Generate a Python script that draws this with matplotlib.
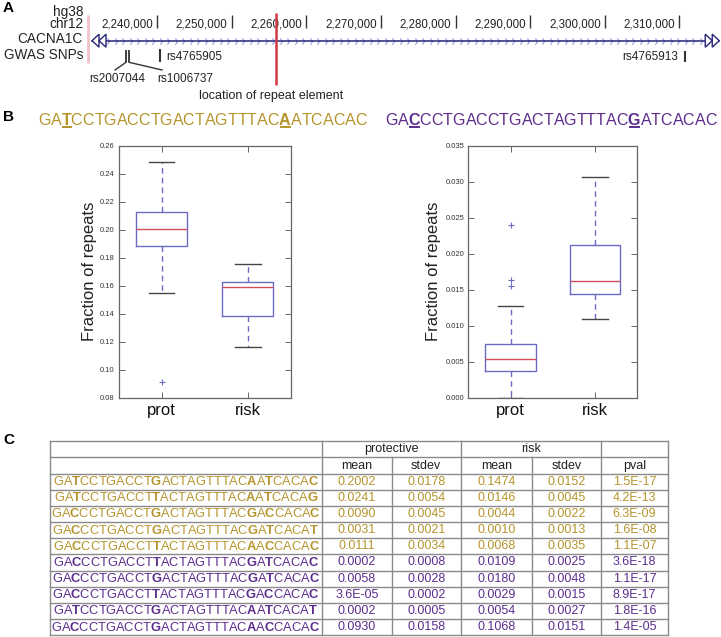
import matplotlib
matplotlib.use('Agg')
import matplotlib.pyplot as plt
import numpy as np
from matplotlib.path import Path
from matplotlib.patches import Polygon

plt.rcParams['font.family'] = ['Liberation Sans', 'DejaVu Sans']
plt.rcParams['mathtext.fontset'] = 'custom'
plt.rcParams['mathtext.rm'] = 'Liberation Sans'
plt.rcParams['mathtext.it'] = 'Liberation Sans:italic'
plt.rcParams['mathtext.bf'] = 'Liberation Sans:bold'
plt.rcParams['mathtext.sf'] = 'Liberation Sans'

# ---------------- data ----------------
# Panel A
track_labels = ['hg38', 'chr12', 'CACNA1C', 'GWAS SNPs']
coord_ticks = [2240000, 2250000, 2260000, 2270000, 2280000, 2290000, 2300000, 2310000]
coord_labels = ['2,240,000', '2,250,000', '2,260,000', '2,270,000',
                '2,280,000', '2,290,000', '2,300,000', '2,310,000']
gene_start = 2231290
gene_end = 2315330
repeat_pos = 2255940
snp_names = ['rs2007044', 'rs1006737', 'rs4765905', 'rs4765913']
snp_pos = [2235850, 2236250, 2240400, 2310740]

# Panel B
seq_protective = 'GATCCTGACCTGACTAGTTTACAATCACAC'
seq_risk = 'GACCCTGACCTGACTAGTTTACGATCACAC'
snp_sites = [2, 22]
groups = ['prot', 'risk']
pval_text = r'p < 10$^{-16}$'

left_whislo = [0.1548, 0.1161]
left_q1 = [0.1883, 0.1385]
left_med = [0.2007, 0.1590]
left_q3 = [0.2124, 0.1629]
left_whishi = [0.2486, 0.1752]
left_fliers = [[0.091], []]

right_whislo = [0.0, 0.0109]
right_q1 = [0.0037, 0.0144]
right_med = [0.0054, 0.0162]
right_q3 = [0.0075, 0.02125]
right_whishi = [0.0127, 0.0306]
right_fliers = [[0.0240, 0.0163, 0.0155], []]

# Panel C
table_seqs = ['GATCCTGACCTGACTAGTTTACAATCACAC',
              'GATCCTGACCTTACTAGTTTACAATCACAG',
              'GACCCTGACCTGACTAGTTTACGACCACAC',
              'GACCCTGACCTGACTAGTTTACGATCACAT',
              'GACCCTGACCTTACTAGTTTACAACCACAC',
              'GACCCTGACCTTACTAGTTTACGATCACAC',
              'GACCCTGACCTGACTAGTTTACGATCACAC',
              'GACCCTGACCTTACTAGTTTACGACCACAC',
              'GATCCTGACCTGACTAGTTTACAATCACAT',
              'GACCCTGACCTGACTAGTTTACAACCACAC']
table_sites = [2, 11, 22, 24, 29]
row_class = ['protective'] * 5 + ['risk'] * 5
prot_mean = ['0.2002', '0.0241', '0.0090', '0.0031', '0.0111',
             '0.0002', '0.0058', '3.6E-05', '0.0002', '0.0930']
prot_sd = ['0.0178', '0.0054', '0.0045', '0.0021', '0.0034',
           '0.0008', '0.0028', '0.0002', '0.0005', '0.0158']
risk_mean = ['0.1474', '0.0146', '0.0044', '0.0010', '0.0068',
             '0.0109', '0.0180', '0.0029', '0.0054', '0.1068']
risk_sd = ['0.0152', '0.0045', '0.0022', '0.0013', '0.0035',
           '0.0025', '0.0048', '0.0015', '0.0027', '0.0151']
pvals = ['1.5E-17', '4.2E-13', '6.3E-09', '1.6E-08', '1.1E-07',
         '3.6E-18', '1.1E-17', '8.9E-17', '1.8E-16', '1.4E-05']
header_top = ['protective', 'risk']
header_sub = ['mean', 'stdev', 'mean', 'stdev', 'pval']

# ---------------- style ----------------
GOLD = '#b5952c'
PURPLE = '#5c2d8e'
class_color = {'protective': GOLD, 'risk': PURPLE}
W, H = 721, 637

fig = plt.figure(figsize=(W / 100, H / 100), dpi=100)
ov = fig.add_axes([0, 0, 1, 1])
ov.set_xlim(0, W)
ov.set_ylim(H, 0)
ov.axis('off')

# genomic-coordinate axes for panel A
px_per_bp = 0.007464
x_left = 2240000 - 157 / px_per_bp
x_right = 2240000 + (W - 157) / px_per_bp
axA = fig.add_axes([0, 0, 1, 1])
axA.set_xlim(x_left, x_right)
axA.set_ylim(H, 0)
axA.axis('off')

# ---------- Panel A ----------
for lab, y in zip(['A', 'B', 'C'], [7.5, 117, 440]):
    ov.text(3, y, lab, fontsize=11, fontweight='bold', ha='left', va='center')

for lab, y in zip(track_labels, [15.7, 28.3, 43.3, 59.0]):
    ov.text(83, y, lab, ha='right', va='baseline', fontsize=9.8, color='#222222')
ov.plot([88, 88], [15, 63], color='#f2c2ca', lw=2, solid_capstyle='butt')

for p, l in zip(coord_ticks, coord_labels):
    axA.vlines(p, 15, 27.5, color='#333333', lw=1)
    axA.annotate(l, xy=(p, 27.3), xytext=(-4, 0), textcoords='offset pixels',
                 ha='right', va='baseline', fontsize=8.3, color='#222222')

gy = 40.7
axA.plot([gene_start, gene_end], [gy, gy], color='#26267a', lw=1.1, zorder=3)
chev = Path([(-0.35, 1.0), (0.35, 0.0), (-0.35, -1.0)],
            [Path.MOVETO, Path.LINETO, Path.LINETO])
step = 7.5 / px_per_bp
chev_x = np.arange(gene_start + 2.2 * step, gene_end - 1.5 * step, step)
axA.plot(chev_x, np.full(len(chev_x), gy), ls='none', marker=chev, ms=4.5,
         mfc='none', mec='#a4a4e0', mew=0.9, zorder=2)
tw = 7 / px_per_bp
for k in range(2):
    tip = gene_start + k * tw
    axA.add_patch(Polygon([(tip, gy), (tip + tw, gy - 6.5), (tip + tw, gy + 6.5)],
                          closed=True, fill=True, fc='white', ec='#26267a', lw=1, zorder=4))
    tip = gene_end - k * tw
    axA.add_patch(Polygon([(tip, gy), (tip - tw, gy - 6.5), (tip - tw, gy + 6.5)],
                          closed=True, fill=True, fc='white', ec='#26267a', lw=1, zorder=4))

axA.vlines(repeat_pos, 13, 85, color='#cf3842', lw=1.8, zorder=5)
axA.annotate('location of repeat element', xy=(repeat_pos, 98.5), xytext=(-5, 0),
             textcoords='offset pixels', ha='center', va='baseline', fontsize=9,
             color='#222222')

# SNPs
axA.vlines(snp_pos[0], 50, 62.3, color='#333333', lw=1.3)
axA.vlines(snp_pos[1], 50, 62.3, color='#333333', lw=1.3)
axA.plot([snp_pos[0], snp_pos[0] - 11 / px_per_bp], [62.3, 70], color='#333333', lw=1)
axA.plot([snp_pos[1], snp_pos[1] + 33 / px_per_bp], [62.3, 70], color='#333333', lw=1)
axA.annotate(snp_names[0], xy=(snp_pos[0], 82.3), xytext=(-8.5, 0),
             textcoords='offset pixels', ha='center', va='baseline', fontsize=8.5, color='#222222')
axA.annotate(snp_names[1], xy=(snp_pos[1], 82.3), xytext=(56, 0),
             textcoords='offset pixels', ha='center', va='baseline', fontsize=8.5, color='#222222')
axA.vlines(snp_pos[2], 49, 62, color='#333333', lw=1.5)
axA.annotate(snp_names[2], xy=(snp_pos[2], 60), xytext=(6.7, 0),
             textcoords='offset pixels', ha='left', va='baseline', fontsize=8.5, color='#222222')
axA.vlines(snp_pos[3], 51, 62, color='#333333', lw=1.5)
axA.annotate(snp_names[3], xy=(snp_pos[3], 60.5), xytext=(-6.7, 0),
             textcoords='offset pixels', ha='right', va='baseline', fontsize=8.5, color='#222222')

# ---------- helpers for mixed-weight sequences ----------
rend = fig.canvas.get_renderer()


def measure(s, size):
    t = ov.text(0, 0, s, fontsize=size)
    w = t.get_window_extent(renderer=rend).width
    t.remove()
    return w


def seq_math(seq, sites):
    out = ''
    for i, ch in enumerate(seq):
        out += (r'$\mathbf{%s}$' % ch) if i in sites else ch
    return out


def draw_header(seq, xc, y, color, size):
    s = seq_math(seq, snp_sites)
    wt = measure(s, size)
    x0 = xc - wt / 2
    ov.text(x0, y, s, ha='left', va='center', fontsize=size, color=color)
    for i in snp_sites:
        wpre = measure(seq_math(seq[:i + 1], snp_sites), size)
        wch = measure(r'$\mathbf{%s}$' % seq[i], size)
        xa = x0 + 1 + wpre - wch
        ov.plot([xa, xa + wch - 2], [y + 7.2, y + 7.2], color=color, lw=1.4,
                solid_capstyle='butt')


draw_header(seq_protective, 203, 120, GOLD, 11.5)
draw_header(seq_risk, 551.5, 120, PURPLE, 11.5)

# ---------- Panel B boxplots ----------
BOXC = '#6b6bc6'


def make_box(rect, whislo, q1, med, q3, whishi, fliers, ylim, yticks, fmt, lab_x, ptext_xy):
    ax = fig.add_axes(rect)
    stats = [dict(whislo=a, q1=b, med=c, q3=d, whishi=e, fliers=f)
             for a, b, c, d, e, f in zip(whislo, q1, med, q3, whishi, fliers)]
    ax.bxp(stats, positions=[1, 2], widths=0.6, capwidths=0.3, showfliers=True,
           boxprops=dict(color=BOXC, lw=1.0),
           whiskerprops=dict(color=BOXC, lw=1.0, linestyle=(0, (4, 3))),
           capprops=dict(color='#444444', lw=1.0),
           medianprops=dict(color='#d0505a', lw=1.0),
           flierprops=dict(marker='+', markeredgecolor=BOXC, markersize=4.5,
                           markeredgewidth=0.8, linestyle='none'))
    ax.set_xlim(0.5, 2.5)
    ax.set_ylim(*ylim)
    ax.set_yticks(yticks)
    ax.set_yticklabels([fmt % v for v in yticks])
    ax.set_xticks([1, 2])
    ax.set_xticklabels(groups)
    for sp in ax.spines.values():
        sp.set_color('#666666')
        sp.set_linewidth(0.9)
    ax.tick_params(direction='in', length=4, width=0.7, color='#666666',
                   top=True, right=True)
    ax.tick_params(axis='y', labelsize=5.5, labelcolor='#333333', pad=3)
    ax.tick_params(axis='x', labelsize=12, labelcolor='#111111', pad=4)
    ax.set_ylabel('Fraction of repeats', fontsize=12, color='#222222')
    ax.yaxis.set_label_coords(lab_x, 0.5)
    ov.text(ptext_xy[0], ptext_xy[1], pval_text, ha='center', va='center',
            fontsize=9.5, color='#222222')
    return ax


fy0 = (H - 397.7) / H
fh = 252.0 / H
make_box([118.5 / W, fy0, 172.2 / W, fh], left_whislo, left_q1, left_med, left_q3,
         left_whishi, left_fliers, (0.08, 0.26), np.round(np.arange(0.08, 0.261, 0.02), 2),
         '%.2f', -0.125, (205.5, 158))
make_box([468.3 / W, fy0, 169.0 / W, fh], right_whislo, right_q1, right_med, right_q3,
         right_whishi, right_fliers, (0.0, 0.035), np.round(np.arange(0.0, 0.0351, 0.005), 3),
         '%.3f', -0.16, (553, 159.5))

# ---------- Panel C table ----------
col_x = [50, 322, 391.7, 460.7, 532, 600.7, 668.3]
row_h = 16.15
top = 441.3
n_rows = 2 + len(table_seqs)
bottom = top + n_rows * row_h
LC = '#8a8a8a'
for r in range(n_rows + 1):
    ov.plot([col_x[0], col_x[-1]], [top + r * row_h] * 2, color=LC, lw=1.0)
for i, x in enumerate(col_x):
    y0 = top if i in (0, 1, 3, 5, 6) else top + row_h
    ov.plot([x, x], [y0, bottom], color=LC, lw=1.0)

ov.text((col_x[1] + col_x[3]) / 2, top + 0.5 * row_h, header_top[0], ha='center',
        va='center', fontsize=9, color='#222222')
ov.text((col_x[3] + col_x[5]) / 2, top + 0.5 * row_h, header_top[1], ha='center',
        va='center', fontsize=9, color='#222222')
for j, h in enumerate(header_sub):
    ov.text((col_x[j + 1] + col_x[j + 2]) / 2, top + 1.5 * row_h, h, ha='center',
            va='center', fontsize=9, color='#222222')

columns = [prot_mean, prot_sd, risk_mean, risk_sd, pvals]
seq_xc = (col_x[0] + col_x[1]) / 2
for i, seq in enumerate(table_seqs):
    yc = top + (2.5 + i) * row_h
    c = class_color[row_class[i]]
    ov.text(seq_xc, yc, seq_math(seq, table_sites), ha='center', va='center',
            fontsize=9.3, color=c)
    for j, col in enumerate(columns):
        ov.text((col_x[j + 1] + col_x[j + 2]) / 2, yc, col[i], ha='center',
                va='center', fontsize=9, color=c)

fig.savefig('out.png', dpi=100)
